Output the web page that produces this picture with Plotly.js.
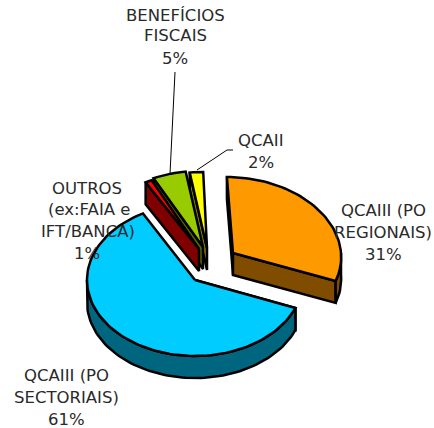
<!DOCTYPE html>
<html><head><meta charset="utf-8">
<script src="https://cdn.plot.ly/plotly-3.0.1.min.js"></script>
<style>html,body{margin:0;padding:0;background:#fff}#c{width:434px;height:428px}</style>
</head><body><div id="c"></div>
<script>
const categories = ["QCAIII (PO REGIONAIS)", "QCAIII (PO SECTORIAIS)", "OUTROS (ex:FAIA e IFT/BANCA)", "BENEFÍCIOS FISCAIS", "QCAII"];
const values = [31, 61, 1, 5, 2];
const topColors = ["#FF9900", "#00CCFF", "#FF0000", "#99CC00", "#FFFF00"];
const sideColors = ["#804C00", "#006680", "#800000", "#5C6600", "#808000"];
// 3D pie projection: exploded apex of each slice, shear for perspective
const apexX = [233, 195, 199, 203, 207];
const apexY = [253, 280, 249, 247, 248];
const shear = [0.08, 0, 0.02, 0.05, 0.05];
const radiusX = 108, radiusY = 76, depth = 22, startAngle = -90;
const drawOrder = [4, 3, 2, 0, 1];

// label lines: [text, x centre, y centre]
const labelLines = [
  ["BENEFÍCIOS", 175, 15], ["FISCAIS", 175, 35], ["5%", 175, 58],
  ["QCAII", 261, 140], ["2%", 261, 162],
  ["OUTROS", 87, 188], ["(ex:FAIA e", 89, 209], ["IFT/BANCA)", 88, 231], ["1%", 87, 253],
  ["QCAIII (PO", 383, 210], ["REGIONAIS)", 383, 232], ["31%", 383, 254],
  ["QCAIII (PO", 66, 375], ["SECTORIAIS)", 66, 397], ["61%", 66, 419]
];

const rad = d => d * Math.PI / 180;
const total = values.reduce((a, b) => a + b, 0);
let cum = startAngle;
const spans = values.map(v => { const a = cum; cum += v / total * 360; return [a, cum]; });

function pt(i, ang, dz) {
  const dy = radiusY * Math.sin(rad(ang));
  return [apexX[i] + radiusX * Math.cos(rad(ang)) + shear[i] * dy, apexY[i] + dy + dz];
}
function arc(i, a, b, dz) {
  const out = [], n = Math.max(2, Math.ceil(Math.abs(b - a) / 2));
  for (let k = 0; k <= n; k++) out.push(pt(i, a + (b - a) * k / n, dz));
  return out;
}
const traces = [];
function poly(points, color) {
  const p = points.concat([points[0]]);
  traces.push({
    type: "scatter", mode: "lines", x: p.map(q => q[0]), y: p.map(q => q[1]),
    fill: "toself", fillcolor: color, line: {color: "#000", width: 2.5, shape: "linear"},
    hoverinfo: "skip", showlegend: false
  });
}
drawOrder.forEach(i => {
  const [a, b] = spans[i];
  const A = [apexX[i], apexY[i]], Ad = [apexX[i], apexY[i] + depth];
  // radial cut walls
  poly([A, pt(i, a, 0), pt(i, a, depth), Ad], sideColors[i]);
  if (i === 0) poly([A, pt(i, b, 0), pt(i, b, depth), Ad], sideColors[i]);
  // outer rim where it faces the viewer
  const r0 = Math.max(a, 0), r1 = Math.min(b, 180);
  if (r1 > r0) poly(arc(i, r0, r1, 0).concat(arc(i, r1, r0, depth)), sideColors[i]);
  // top face
  poly([A].concat(arc(i, a, b, 0)), topColors[i]);
});

const annotations = labelLines.map(l => ({
  text: l[0], x: l[1], y: l[2], xref: "x", yref: "y", showarrow: false,
  xanchor: "center", yanchor: "middle",
  font: {family: "DejaVu Sans", size: 16.5, color: "#2a2a2a"}
}));
const shapes = [
  {type: "path", path: "M175,72 L170,174", line: {color: "#000", width: 1}},
  {type: "path", path: "M233,150 L227,150 L197,170", line: {color: "#000", width: 1}}
];
Plotly.newPlot("c", traces, {
  width: 434, height: 428, margin: {l: 0, r: 0, t: 0, b: 0},
  paper_bgcolor: "#fff", plot_bgcolor: "#fff", showlegend: false,
  xaxis: {range: [0, 434], visible: false, fixedrange: true},
  yaxis: {range: [428, 0], visible: false, fixedrange: true},
  annotations, shapes
}, {staticPlot: true, displayModeBar: false});
</script></body></html>
